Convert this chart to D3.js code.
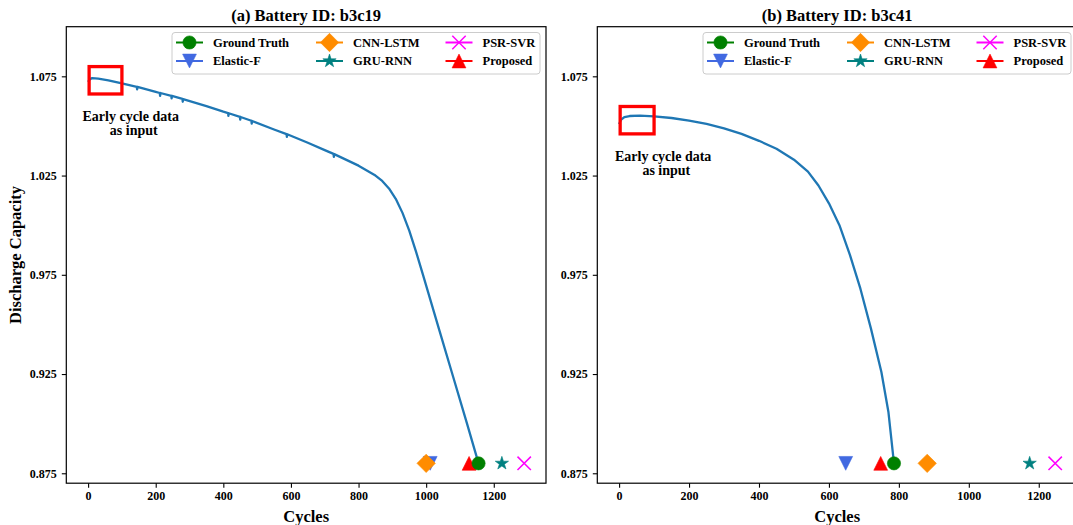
<!DOCTYPE html>
<html>
<head>
<meta charset="utf-8">
<script src="https://cdn.jsdelivr.net/npm/d3@7"></script>
<style>
    body { margin: 0; background: #fff; }
    svg text { font-family: "Liberation Serif", "Times New Roman", serif; font-weight: bold; fill: #000; }
</style>
</head>
<body>
<svg id="chart" width="1073" height="525"></svg>
<script>
// Data.
const cyclesB3c19 = [0, 5, 12, 30, 60, 100, 144, 145, 146, 200, 212, 213, 214, 246, 247, 248,
    279, 280, 281, 350, 400, 414, 415, 416, 449, 450, 451, 483, 484, 485, 550, 587, 588, 589,
    650, 700, 726, 727, 728, 800, 850, 870, 890, 910, 930, 950, 970, 990, 1040, 1080, 1120,
    1155];
const capacityB3c19 = [1.0722, 1.0735, 1.0741, 1.0738, 1.0730, 1.0714, 1.0697, 1.0684, 1.0697,
    1.0672, 1.0666, 1.0652, 1.0666, 1.0652, 1.0639, 1.0651, 1.0636, 1.0622, 1.0635, 1.0600,
    1.0572, 1.0565, 1.0551, 1.0564, 1.0546, 1.0532, 1.0545, 1.0526, 1.0512, 1.0525, 1.0482,
    1.0459, 1.0445, 1.0458, 1.0415, 1.0378, 1.0359, 1.0344, 1.0358, 1.0300, 1.0250, 1.0223,
    1.0185, 1.0133, 1.0062, 0.9973, 0.9867, 0.9753, 0.9465, 0.9235, 0.9005, 0.8800];
const cyclesB3c41 = [0, 5, 15, 30, 60, 100, 150, 200, 250, 300, 350, 400, 450, 500, 540, 570,
    600, 630, 660, 690, 720, 750, 770, 786];
const capacityB3c41 = [1.0509, 1.0530, 1.0545, 1.0550, 1.0552, 1.0548, 1.0540, 1.0527, 1.0510,
    1.0488, 1.0460, 1.0425, 1.0385, 1.0330, 1.0270, 1.0200, 1.0110, 1.0000, 0.9850, 0.9680,
    0.9480, 0.9260, 0.9060, 0.8800];

const methods = ['Ground Truth', 'Elastic-F', 'CNN-LSTM', 'GRU-RNN', 'PSR-SVR', 'Proposed'];
const eolB3c19 = [1155, 1012, 1000, 1224, 1290, 1127];
const eolB3c41 = [786, 648, 881, 1174, 1247, 748];
const markerLevel = 0.88;

const titles = ['(a) Battery ID: b3c19', '(b) Battery ID: b3c41'];
const xTicks = [0, 200, 400, 600, 800, 1000, 1200];
const yTicks = [0.875, 0.925, 0.975, 1.025, 1.075];
const yLimits = [0.87, 1.10];
const inputWindow = [3, 100];
const inputCentre = [1.0730, 1.0529];
const inputHeight = 0.0138;
const noteLines = ['Early cycle data', 'as input'];

// Styles.
const COLORS = ['#008000', '#4169e1', '#ff8c00', '#008080', '#ff00ff', '#ff0000'];
const SHAPES = ['o', 'v', 'D', '*', 'x', '^'];
const DRAW_ORDER = [1, 2, 3, 4, 5, 0];
const LINE_COLOR = '#1f77b4';
const AX_W = 479.7;
const AX_TOP = 26.7;
const AX_BOTTOM = 483.2;

const svg = d3.select('#chart');

const drawMarker = (g, shape, color) => {
    const s = 6.9;
    let m;
    if (shape === 'o') {
        m = g.append('circle').attr('r', 6.6);
    } else if (shape === 'v') {
        m = g.append('path').attr('d', `M${-s},${-s}L${s},${-s}L0,${s}Z`);
    } else if (shape === '^') {
        m = g.append('path').attr('d', `M0,${-s}L${s},${s}L${-s},${s}Z`);
    } else if (shape === 'D') {
        m = g.append('path').attr('d', 'M0,-9.2L9.2,0L0,9.2L-9.2,0Z');
    } else if (shape === '*') {
        m = g.append('path').attr('d', d3.symbol(d3.symbolStar, 55)());
    } else {
        return g.append('path')
            .attr('d', 'M-6.7,-6.7L6.7,6.7M-6.7,6.7L6.7,-6.7')
            .attr('fill', 'none')
            .attr('stroke', color)
            .attr('stroke-width', 1.5);
    }
    return m.attr('fill', color).attr('stroke', color).attr('stroke-width', 0.6);
};

const Panel = (left, cycles, capacity, eol, idx) => {
    const xMax = d3.max([...cycles, ...eol]);
    const pad = xMax * 0.05;
    const x = d3.scaleLinear([-pad, xMax + pad], [left, left + AX_W]);
    const y = d3.scaleLinear(yLimits, [AX_BOTTOM, AX_TOP]);
    const g = svg.append('g');

    // Axes.
    const xAxis = g.append('g')
        .attr('transform', `translate(0,${AX_BOTTOM})`)
        .call(d3.axisBottom(x).tickValues(xTicks).tickFormat(d3.format('d'))
            .tickSize(4.5).tickPadding(4.2));
    const yAxis = g.append('g')
        .attr('transform', `translate(${left},0)`)
        .call(d3.axisLeft(y).tickValues(yTicks).tickFormat(d3.format('.3f'))
            .tickSize(4.5).tickPadding(5.1));
    [xAxis, yAxis].forEach(a => {
        a.select('.domain').remove();
        a.selectAll('line').attr('stroke', '#000').attr('stroke-width', 1.1);
        a.selectAll('text').attr('font-size', 12).attr('font-family', null);
    });

    // Capacity curve.
    g.append('path')
        .datum(cycles.map((c, i) => [c, capacity[i]]))
        .attr('fill', 'none')
        .attr('stroke', LINE_COLOR)
        .attr('stroke-width', 2.3)
        .attr('stroke-linejoin', 'round')
        .attr('d', d3.line().x(d => x(d[0])).y(d => y(d[1])));

    // End-of-life markers.
    DRAW_ORDER.forEach(i => {
        const m = g.append('g').attr('transform', `translate(${x(eol[i])},${y(markerLevel)})`);
        drawMarker(m, SHAPES[i], COLORS[i]);
    });

    // Input window box and note.
    const c = inputCentre[idx];
    g.append('rect')
        .attr('x', x(inputWindow[0]))
        .attr('y', y(c + inputHeight / 2))
        .attr('width', x(inputWindow[1]) - x(inputWindow[0]))
        .attr('height', y(c - inputHeight / 2) - y(c + inputHeight / 2))
        .attr('fill', 'none')
        .attr('stroke', '#ff0000')
        .attr('stroke-width', 3.3);
    g.append('text')
        .attr('x', x(126))
        .attr('y', y(c - 0.0205))
        .attr('text-anchor', 'middle')
        .attr('font-size', 14)
        .text(noteLines[0]);
    g.append('text')
        .attr('x', x(135))
        .attr('y', y(c - 0.0205) + 14)
        .attr('text-anchor', 'middle')
        .attr('font-size', 14)
        .text(noteLines[1]);

    // Frame.
    g.append('rect')
        .attr('x', left)
        .attr('y', AX_TOP)
        .attr('width', AX_W)
        .attr('height', AX_BOTTOM - AX_TOP)
        .attr('fill', 'none')
        .attr('stroke', '#000')
        .attr('stroke-width', 1.2);

    // Legend.
    const lx = left + AX_W - 6 - 368;
    const leg = g.append('g').attr('transform', `translate(${lx},32.5)`);
    leg.append('rect')
        .attr('width', 368)
        .attr('height', 41.5)
        .attr('rx', 3)
        .attr('fill', '#fff')
        .attr('fill-opacity', 0.8)
        .attr('stroke', '#cccccc')
        .attr('stroke-width', 1);
    const colX = [4, 144, 273.5];
    const rowY = [10, 28.5];
    methods.forEach((name, i) => {
        const cx = colX[Math.floor(i / 2)];
        const cy = rowY[i % 2];
        leg.append('line')
            .attr('x1', cx).attr('x2', cx + 27)
            .attr('y1', cy).attr('y2', cy)
            .attr('stroke', COLORS[i])
            .attr('stroke-width', 2);
        drawMarker(leg.append('g').attr('transform', `translate(${cx + 13.5},${cy})`), SHAPES[i], COLORS[i]);
        leg.append('text')
            .attr('x', cx + 37)
            .attr('y', cy + 4.4)
            .attr('font-size', 12.5)
            .text(name);
    });

    // Titles.
    g.append('text')
        .attr('x', left + AX_W / 2)
        .attr('y', 20.5)
        .attr('text-anchor', 'middle')
        .attr('font-size', 16.5)
        .text(titles[idx]);
    g.append('text')
        .attr('x', left + AX_W / 2)
        .attr('y', 521.5)
        .attr('text-anchor', 'middle')
        .attr('font-size', 16.5)
        .text('Cycles');
};

Panel(66.3, cyclesB3c19, capacityB3c19, eolB3c19, 0);
Panel(597.3, cyclesB3c41, capacityB3c41, eolB3c41, 1);

svg.append('text')
    .attr('transform', `translate(21,${(AX_TOP + AX_BOTTOM) / 2}) rotate(-90)`)
    .attr('text-anchor', 'middle')
    .attr('font-size', 16.5)
    .text('Discharge Capacity');
</script>
</body>
</html>
